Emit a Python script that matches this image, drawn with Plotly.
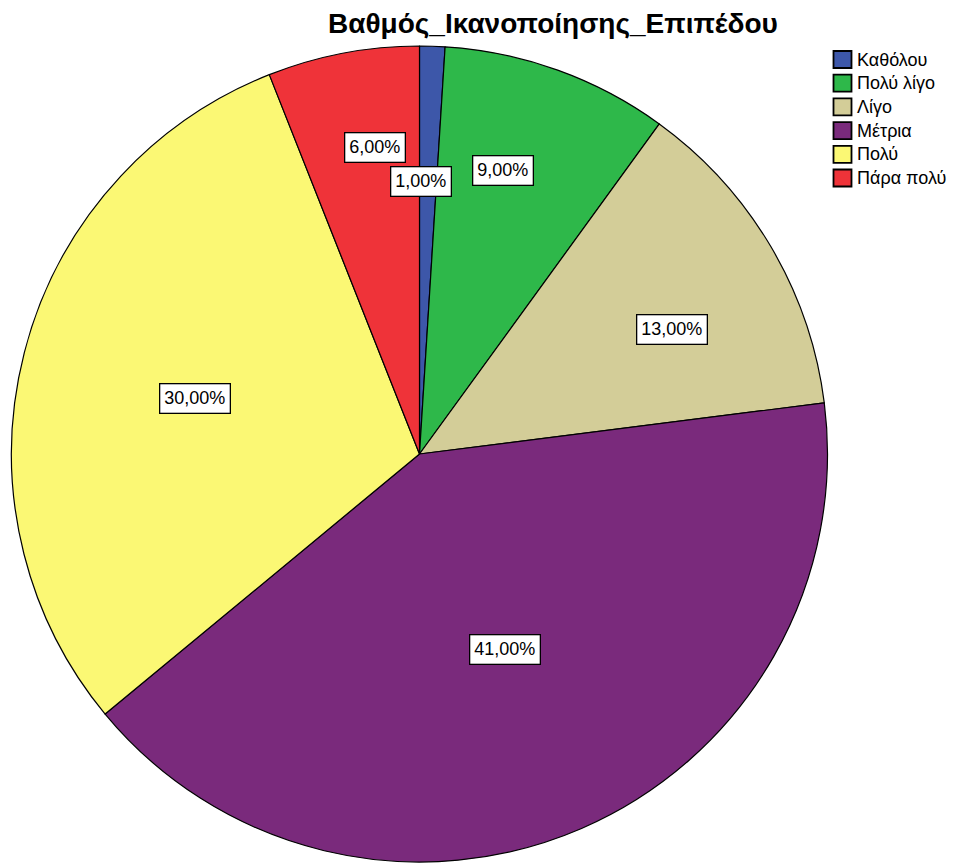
import math
import plotly.graph_objects as go

# Survey answers: satisfaction level (percent of respondents)
categories = ["Καθόλου", "Πολύ λίγο", "Λίγο", "Μέτρια", "Πολύ", "Πάρα πολύ"]
percentages = [1.0, 9.0, 13.0, 41.0, 30.0, 6.0]
colors = ["#3D57A9", "#2EB84A", "#D3CD98", "#7A2A7C", "#FBF874", "#EF3339"]
title_text = "Βαθμός_Ικανοποίησης_Επιπέδου"

W, H = 956, 863
CX, CY, R = 419.5, 454.0, 408.0   # pie centre and radius in pixels
# label placement: distance as fraction of radius, and angular nudge (degrees) from slice middle
label_radius = [0.667, 0.725, 0.689, 0.522, 0.567, 0.760]
label_nudge = [-1.5, -3.4, 4.4, -0.2, -0.6, 2.5]

FONT = "Liberation Sans, Arial, sans-serif"

fig = go.Figure(
    go.Pie(
        labels=categories,
        values=percentages,
        sort=False,
        direction="clockwise",
        rotation=0,
        marker=dict(colors=colors, line=dict(color="black", width=1.2)),
        textinfo="none",
        hoverinfo="label+percent",
        showlegend=False,
        domain=dict(x=[(CX - R) / W, (CX + R) / W], y=[(H - CY - R) / H, (H - CY + R) / H]),
    )
)

annotations = []
shapes = []

# value labels in white boxes
total = sum(percentages)
start = 0.0
for val, f, nudge in zip(percentages, label_radius, label_nudge):
    mid = (start + val / 2) / total * 2 * math.pi + math.radians(nudge)
    start += val
    px = CX + R * f * math.sin(mid)
    py = CY - R * f * math.cos(mid)
    annotations.append(dict(
        x=px / W, y=1 - py / H, xref="paper", yref="paper",
        text=f"{val:.2f}%".replace(".", ","), showarrow=False,
        font=dict(family=FONT, size=18, color="black"),
        bgcolor="white", bordercolor="black", borderwidth=1.3, borderpad=4,
        xanchor="center", yanchor="middle",
    ))

# legend built from swatches and text
LX, LY0, STEP, SW, SH = 833.5, 59.5, 23.7, 18, 17
for i, (name, col) in enumerate(zip(categories, colors)):
    yc = LY0 + i * STEP
    shapes.append(dict(
        type="rect", xref="paper", yref="paper",
        x0=LX / W, x1=(LX + SW) / W,
        y0=1 - (yc + SH / 2) / H, y1=1 - (yc - SH / 2) / H,
        fillcolor=col, line=dict(color="black", width=1.8),
    ))
    annotations.append(dict(
        x=(LX + SW + 3) / W, y=1 - yc / H, xref="paper", yref="paper",
        text=name, showarrow=False, xanchor="left", yanchor="middle",
        font=dict(family=FONT, size=18, color="black"),
    ))

# chart title
annotations.append(dict(
    x=553 / W, y=1 - 24 / H, xref="paper", yref="paper",
    text=f"<b>{title_text}</b>", showarrow=False, xanchor="center", yanchor="middle",
    font=dict(family=FONT, size=28, color="black"),
))

fig.update_layout(
    width=W, height=H,
    margin=dict(l=0, r=0, t=0, b=0),
    paper_bgcolor="white", plot_bgcolor="white",
    annotations=annotations, shapes=shapes,
)

fig.write_html("out.html")
